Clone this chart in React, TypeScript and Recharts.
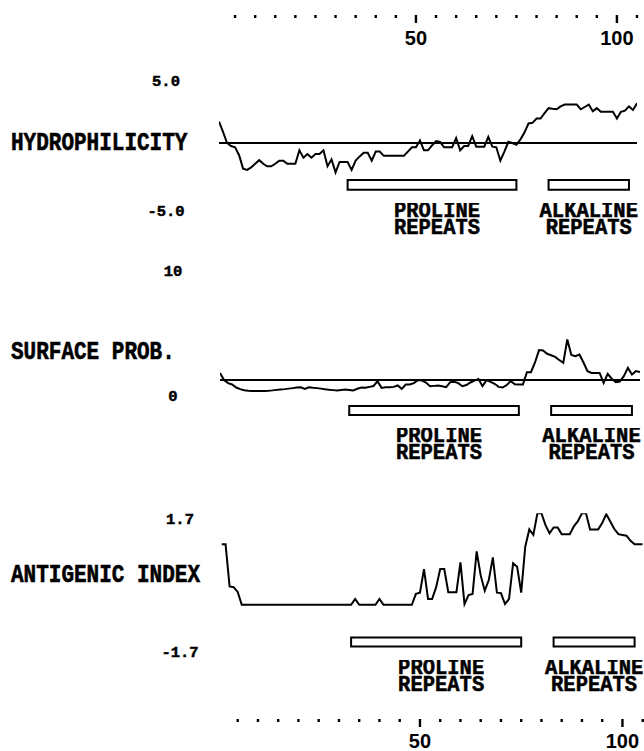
import React from 'react';
import { LineChart, Line, XAxis, YAxis, ReferenceLine, ReferenceArea } from 'recharts';

// residue numbers along the sequence
const residues = Array.from({ length: 105 }, (_, i) => i + 1);

const hydrophilicity = [
  1.65, 0.85, 0, -0.23, -0.33, -0.94, -1.97, -2.07, -1.88, -1.6,
  -1.32, -1.6, -1.79, -1.79, -1.6, -1.36, -1.36, -1.6, -1.6, -1.6,
  -0.56, -1.13, -0.85, -1.13, -0.85, -0.85, -0.56, -1.79, -1.27, -2.26,
  -1.46, -1.46, -1.46, -2.07, -1.36, -1.03, -0.75, -0.75, -1.36, -0.66,
  -0.66, -0.99, -0.99, -0.99, -0.99, -0.99, -0.99, -0.66, -0.33, -0.33,
  0.19, -0.56, -0.56, -0.19, 0.14, 0.09, -0.33, -0.33, -0.33, 0.38,
  -0.56, -0.23, -0.23, 0.52, -0.28, -0.28, -0.28, 0.47, -0.28, -0.33,
  -1.36, -0.66, 0.09, 0, -0.14, 0.28, 0.8, 1.5, 1.55, 1.88,
  1.88, 2.3, 2.68, 2.63, 2.59, 2.82, 2.96, 2.96, 2.96, 2.96,
  2.59, 2.77, 2.96, 2.44, 2.68, 2.4, 2.4, 2.4, 2.4, 1.88,
  2.4, 2.49, 2.82, 2.54, 3.06,
];

const surfaceProb = [
  1.57, 1.0, 0.75, 0.64, 0.4, 0.27, 0.18, 0.14, 0.13, 0.13,
  0.13, 0.13, 0.14, 0.17, 0.21, 0.24, 0.27, 0.31, 0.35, 0.4,
  0.42, 0.29, 0.42, 0.38, 0.35, 0.31, 0.26, 0.22, 0.19, 0.16,
  0.2, 0.23, 0.2, 0.16, 0.3, 0.4, 0.38, 0.45, 0.52, 0.9,
  0.37, 0.42, 0.42, 0.45, 0.56, 0.29, 0.64, 0.64, 0.75, 0.99,
  0.95, 0.8, 0.51, 0.53, 0.55, 0.5, 0.43, 0.83, 0.85, 0.75,
  0.5, 0.6, 0.8, 0.95, 1.08, 0.51, 0.99, 0.85, 0.7, 0.45,
  0.4, 0.6, 0.91, 0.66, 0.64, 0.64, 1.63, 1.63, 2.4, 3.39,
  3.36, 3.1, 2.98, 2.85, 2.6, 2.37, 4.24, 3.0, 2.9, 3.04,
  2.4, 1.71, 1.57, 1.57, 1.57, 0.77, 1.49, 1.1, 0.83, 0.88,
  1.31, 1.97, 1.44, 1.71, 1.63,
];

const antigenicIndex = [
  0.91, 0.91, -0.16, -0.18, -0.3, -0.63, -0.63, -0.63, -0.63, -0.63,
  -0.63, -0.63, -0.63, -0.63, -0.63, -0.63, -0.63, -0.63, -0.63, -0.63,
  -0.63, -0.63, -0.63, -0.63, -0.63, -0.63, -0.63, -0.63, -0.63, -0.63,
  -0.63, -0.63, -0.63, -0.48, -0.63, -0.63, -0.63, -0.63, -0.63, -0.48,
  -0.63, -0.63, -0.63, -0.63, -0.63, -0.63, -0.63, -0.63, -0.35, -0.32,
  0.28, -0.48, -0.48, -0.18, 0.28, 0.28, -0.31, -0.31, -0.31, 0.45,
  -0.61, -0.38, -0.35, 0.73, 0.12, -0.27, 0.0, 0.58, -0.32, -0.33,
  -0.61, -0.48, 0.43, 0.34, -0.32, 0.85, 1.29, 1.15, 1.7, 1.7,
  1.4, 1.19, 1.34, 1.34, 1.17, 1.17, 1.17, 1.37, 1.5, 1.7,
  1.7, 1.29, 1.29, 1.29, 1.45, 1.68, 1.49, 1.3, 1.17, 1.15,
  1.13, 1.0, 0.91, 0.91, 0.91,
];

const residueTicks = [5, 10, 15, 20, 25, 30, 35, 40, 45, 50, 55, 60, 65, 70, 75, 80, 85, 90, 95, 100, 105];
const labeledTicks = [50, 100];

const repeatLabels = ['PROLINE', 'ALKALINE'];
const repeatStarts = [33, 83];
const repeatEnds = [75, 103];

const FONT_MONO = "'Liberation Mono', 'DejaVu Sans Mono', monospace";
const FONT_SANS = "'Liberation Sans', Arial, sans-serif";

const monoProps = {
  dominantBaseline: 'central',
  fontFamily: FONT_MONO,
  fontWeight: 'bold',
  fill: '#000',
  stroke: '#000',
  strokeWidth: 0.5,
} as const;

const MonoText = ({ x, y, text, size, sy = 1, anchor = 'start' }: any) => (
  <text transform={`translate(${x},${y}) scale(1,${sy})`} textAnchor={anchor} fontSize={size} {...monoProps}>
    {text}
  </text>
);

const makeYTick = (dy: number, fmt: (v: number) => string) => (props: any) => {
  const { x, y, payload } = props;
  return <MonoText x={x} y={y + dy} text={fmt(payload.value)} size={15.5} anchor="middle" />;
};

const makeXTick = (side: string) => (props: any) => {
  const { x, y, payload } = props;
  const v = payload.value;
  const major = labeledTicks.includes(v);
  const top = side === 'top';
  const dotY = top ? y - 61.5 : y + 22.5;
  const labelY = top ? y - 40 : y + 43;
  return (
    <g>
      {major ? (
        <rect x={x - 1.2} y={top ? y - 63 : y + 21} width={2.4} height={8} fill="#000" />
      ) : (
        <rect x={x - 1.2} y={dotY - 1.5} width={2.4} height={3} fill="#000" />
      )}
      {major && (
        <text x={x} y={labelY} textAnchor="middle" dominantBaseline="central"
          fontFamily={FONT_SANS} fontWeight="bold" fontSize={20} fill="#000">
          {v}
        </text>
      )}
    </g>
  );
};

// two-line label under a repeat box, one text node with a line break
const repeatLabel = (name: string, dx: number) => (props: any) => {
  const { x, y, width, height } = props.viewBox;
  const cx = x + width / 2 + dx;
  const bottom = y + height;
  return (
    <foreignObject x={cx - 70} y={bottom + 13.2} width={140} height={44}>
      <div
        style={{
          fontFamily: FONT_MONO,
          fontWeight: 'bold',
          fontSize: 20.5,
          lineHeight: '15px',
          textAlign: 'center',
          whiteSpace: 'pre',
          color: '#000',
          WebkitTextStroke: '0.5px #000',
          transform: 'scaleY(1.1)',
          transformOrigin: 'top',
        }}
      >
        {`${name}\nREPEATS`}
      </div>
    </foreignObject>
  );
};

function Panel(p: any) {
  const data = residues.map((r, i) => ({ residue: r, value: p.values[i] }));
  return (
    <div style={{ position: 'absolute', left: 0, top: p.top }}>
      <LineChart width={644} height={p.height} data={data} margin={p.margin}>
        <XAxis
          dataKey="residue"
          type="number"
          domain={[1, 105]}
          allowDataOverflow
          ticks={residueTicks}
          interval={0}
          orientation={p.axis === 'bottom' ? 'bottom' : 'top'}
          hide={p.axis === 'none'}
          height={p.axisHeight || 0}
          axisLine={false}
          tickLine={false}
          tickSize={0}
          tickMargin={0}
          tick={makeXTick(p.axis)}
        />
        <YAxis
          type="number"
          domain={p.domain}
          allowDataOverflow
          ticks={p.ticks}
          interval={0}
          width={p.yWidth}
          axisLine={false}
          tickLine={false}
          tickSize={0}
          tickMargin={p.tickGap}
          tick={makeYTick(p.tickDy, p.fmt)}
          label={{ content: () => <MonoText x={11} y={p.titleY} text={p.title} size={21} sy={1.25} /> }}
        />
        {p.refY !== undefined && <ReferenceLine y={p.refY} stroke="#000" strokeWidth={2} />}
        {repeatLabels.map((name, i) => (
          <ReferenceArea
            key={name}
            x1={repeatStarts[i]}
            x2={repeatEnds[i]}
            y1={p.barY[0]}
            y2={p.barY[1]}
            fill="#fff"
            fillOpacity={1}
            stroke="#000"
            strokeWidth={2}
            ifOverflow="visible"
            label={repeatLabel(name, i === 0 ? 5 : 0)}
          />
        ))}
        <Line dataKey="value" type="linear" stroke="#000" strokeWidth={2} dot={false} isAnimationActive={false} />
      </LineChart>
    </div>
  );
}

export default function App() {
  return (
    <div style={{ position: 'absolute', left: 0, top: 0, width: 644, height: 751, background: '#fff', overflow: 'hidden' }}>
      <Panel
        top={0}
        height={247}
        margin={{ top: 0, right: 7, bottom: 0, left: 0 }}
        axis="top"
        axisHeight={78}
        yWidth={219}
        domain={[-8, 5]}
        ticks={[-5, 5]}
        fmt={(v: number) => v.toFixed(1)}
        tickGap={53}
        tickDy={4}
        refY={0}
        barY={[-3.6, -2.85]}
        title="HYDROPHILICITY"
        titleY={142.5}
        values={hydrophilicity}
      />
      <Panel
        top={250}
        height={218}
        margin={{ top: 17.5, right: 4, bottom: 0.5, left: 0 }}
        axis="none"
        yWidth={220}
        domain={[-6, 10]}
        ticks={[0, 10]}
        fmt={(v: number) => String(v)}
        tickGap={47}
        tickDy={4.5}
        refY={1}
        barY={[-1.8, -1.08]}
        title="SURFACE PROB."
        titleY={101.5}
        values={surfaceProb}
      />
      <Panel
        top={470}
        height={281}
        margin={{ top: 43.3, right: 1.3, bottom: 0, left: 0 }}
        axis="bottom"
        axisHeight={53}
        yWidth={221.5}
        domain={[-3, 1.7]}
        ticks={[-1.7, 1.7]}
        fmt={(v: number) => v.toFixed(1)}
        tickGap={41.5}
        tickDy={6.5}
        barY={[-1.69, -1.46]}
        title="ANTIGENIC INDEX"
        titleY={105}
        values={antigenicIndex}
      />
    </div>
  );
}
